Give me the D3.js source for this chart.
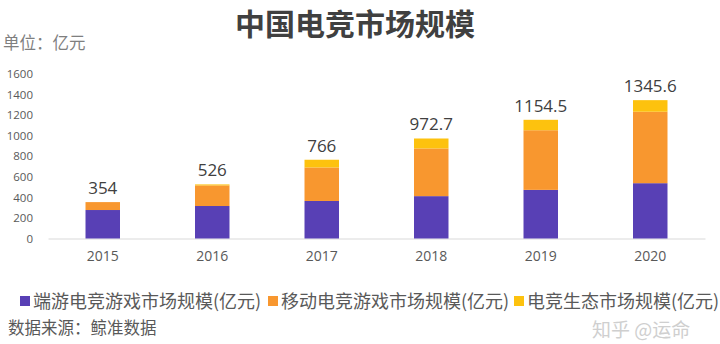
<!DOCTYPE html>
<html><head><meta charset="utf-8">
<script src="https://cdn.jsdelivr.net/npm/d3@7"></script>
<style>body{margin:0;background:#fff}svg{display:block}</style>
</head><body>
<script>
const years = ["2015","2016","2017","2018","2019","2020"];
const pcValues = [277, 316, 365, 412, 473, 538];
const mobileValues = [77, 200, 326, 464, 580, 695];
const ecoValues = [0, 10, 75, 96.7, 101.5, 112.6];
const totals = ["354","526","766","972.7","1154.5","1345.6"];
const seriesNames = ["端游电竞游戏市场规模(亿元)","移动电竞游戏市场规模(亿元)","电竞生态市场规模(亿元)"];
const colors = ["#5840B5","#F8972F","#FDC20E"];
const yTicks = [0,200,400,600,800,1000,1200,1400,1600];

const W=720,H=344;
const cjk = "'Noto Sans CJK SC','Noto Sans',sans-serif";
const num = "'Open Sans','Noto Sans',sans-serif";
const svg = d3.select("body").append("svg").attr("width",W).attr("height",H);

const rows = years.map((y,i)=>({year:y,pc:pcValues[i],mobile:mobileValues[i],eco:ecoValues[i]}));
const keys = ["pc","mobile","eco"];
const stacked = d3.stack().keys(keys)(rows);

const x = d3.scaleBand().domain(years).range([48,705]).paddingInner(0.685).paddingOuter(0.3425);
const y = d3.scaleLinear().domain([0,1600]).range([238.5,74]);

svg.append("text").attr("x",355).attr("y",35).attr("text-anchor","middle")
  .attr("font-family",cjk).attr("font-weight","bold").attr("font-size",30).attr("fill","#404040")
  .text("中国电竞市场规模");
svg.append("text").attr("x",3).attr("y",49).attr("font-family",cjk).attr("font-size",16.5).attr("fill","#7f7f7f")
  .text("单位：亿元");

// y axis labels
const yAxis = d3.axisLeft(y).tickValues(yTicks).tickFormat(d3.format("d")).tickSize(0).tickPadding(0);
const ga = svg.append("g").attr("transform","translate(33,0)").call(yAxis);
ga.select(".domain").remove();
ga.selectAll("text").attr("font-family",num).attr("font-size",11.5).attr("fill","#595959");

// x axis
const xAxis = d3.axisBottom(x).tickSize(0).tickPadding(13);
const gx = svg.append("g").attr("transform",`translate(0,${y(0)})`).call(xAxis);
gx.select(".domain").attr("stroke","#d9d9d9").attr("stroke-width",1.2);
gx.selectAll("text").attr("font-family",num).attr("font-size",14).attr("fill","#595959");

svg.append("g").selectAll("g").data(stacked).join("g").attr("fill",(d,i)=>colors[i])
  .selectAll("rect").data(d=>d).join("rect")
  .attr("x",d=>x(d.data.year)).attr("width",x.bandwidth())
  .attr("y",d=>y(d[1])).attr("height",d=>y(d[0])-y(d[1]));

svg.append("g").selectAll("text").data(years).join("text")
  .attr("x",d=>x(d)+x.bandwidth()/2)
  .attr("y",(d,i)=>y(stacked[2][i][1])-8)
  .attr("text-anchor","middle").attr("font-family",num).attr("font-size",17).attr("fill","#404040")
  .text((d,i)=>totals[i]);

// legend
const legX = [20,268,514];
const lg = svg.append("g").selectAll("g").data(seriesNames).join("g")
  .attr("transform",(d,i)=>`translate(${legX[i]},301)`);
lg.append("rect").attr("x",0).attr("y",-5).attr("width",10).attr("height",10).attr("fill",(d,i)=>colors[i]);
lg.append("text").attr("x",13).attr("y",6.5).attr("font-family",cjk).attr("font-size",18).attr("fill","#595959").text(d=>d);

svg.append("text").attr("x",8).attr("y",334).attr("font-family",cjk).attr("font-size",16.5).attr("fill","#595959")
  .text("数据来源：鲸准数据");

svg.append("text").attr("x",592).attr("y",337).attr("font-family",cjk).attr("font-size",19).attr("fill","#bbbbbb").attr("opacity",0.7)
  .text("知乎 @运命");
</script>
</body></html>
